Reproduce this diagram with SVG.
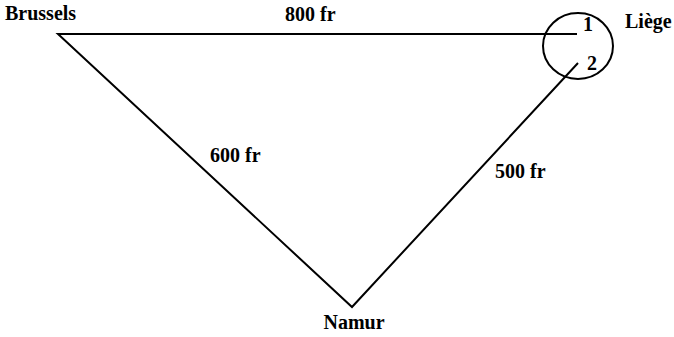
<svg xmlns="http://www.w3.org/2000/svg" width="674" height="337" viewBox="0 0 674 337">
<style>
.l{stroke:#000;stroke-width:2;fill:none}
text{font-family:"Liberation Serif","Times New Roman",serif;font-weight:bold;font-size:20px;fill:#000}
</style>
<rect width="674" height="337" fill="#fff"/>
<g id="connectors">
<polyline class="l" points="577,34 58,34 352,307 578,63"/>
</g>
<g id="liege">
<ellipse class="l" cx="578" cy="46" rx="35" ry="33"/>
<text x="625" y="28">Liège</text>
<text x="583" y="31">1</text>
<text x="587" y="70">2</text>
</g>
<g id="brussels"><text x="5" y="20">Brussels</text></g>
<g id="namur"><text x="354" y="329" text-anchor="middle">Namur</text></g>
<g id="labels">
<text x="285" y="21">800 fr</text>
<text x="210" y="162">600 fr</text>
<text x="495" y="178">500 fr</text>
</g>
</svg>
